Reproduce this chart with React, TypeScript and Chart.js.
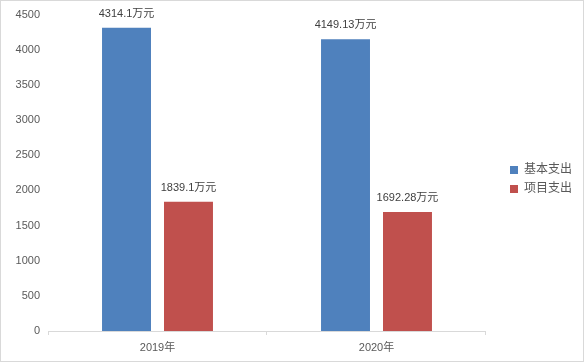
import React, { useEffect, useRef } from "react";
import { Chart, registerables } from "chart.js";

Chart.register(...registerables);

const categories = ["2019年", "2020年"];
const seriesNames = ["基本支出", "项目支出"];
const basicValues = [4314.1, 4149.13];
const projectValues = [1839.1, 1692.28];
const valueLabels = [
  ["4314.1万元", "4149.13万元"],
  ["1839.1万元", "1692.28万元"],
];
const yMin = 0;
const yMax = 4500;
const yStep = 500;

const FONT = '"Liberation Sans", "Noto Sans CJK SC", sans-serif';
const TEXT = "#595959";
const LEGEND_GAP = 18;

const outerBorder = {
  id: "outerBorder",
  beforeDraw(chart: any) {
    const { ctx, width, height } = chart;
    ctx.save();
    ctx.fillStyle = "#ffffff";
    ctx.fillRect(0, 0, width, height);
    ctx.restore();
  },
  afterDraw(chart: any) {
    const { ctx, width, height } = chart;
    ctx.save();
    ctx.strokeStyle = "#d9d9d9";
    ctx.lineWidth = 1;
    ctx.strokeRect(0.5, 0.5, width - 1, height - 1);
    ctx.restore();
  },
};

const legendGap = {
  id: "legendGap",
  afterInit(chart: any) {
    const lg = chart.legend;
    if (lg && !lg.__patched) {
      const orig = lg.fit;
      lg.fit = function () {
        orig.call(this);
        this.width += LEGEND_GAP;
      };
      lg.__patched = true;
    }
  },
  afterLayout(chart: any) {
    const lg = chart.legend;
    if (lg) {
      const w = lg.width;
      lg.left = chart.chartArea.right + 17;
      lg.right = lg.left + w;
      lg.top -= 8;
      lg.bottom -= 8;
    }
  },
};

const dataLabels = {
  id: "dataLabels",
  afterDatasetsDraw(chart: any) {
    const { ctx } = chart;
    ctx.save();
    ctx.font = `11px ${FONT}`;
    ctx.fillStyle = "#404040";
    ctx.textAlign = "center";
    ctx.textBaseline = "middle";
    chart.data.datasets.forEach((ds: any, di: number) => {
      const meta = chart.getDatasetMeta(di);
      meta.data.forEach((bar: any, i: number) => {
        ctx.fillText(valueLabels[di][i], bar.x, bar.y - 14);
      });
    });
    ctx.restore();
  },
};

export default function App() {
  const ref = useRef<HTMLCanvasElement>(null);
  useEffect(() => {
    document.body.style.margin = "0";
    const chart = new Chart(ref.current!, {
      type: "bar",
      data: {
        labels: categories,
        datasets: [
          {
            label: seriesNames[0],
            data: basicValues,
            backgroundColor: "#4f81bd",
            categoryPercentage: 0.566,
            barPercentage: 0.79,
          },
          {
            label: seriesNames[1],
            data: projectValues,
            backgroundColor: "#c0504d",
            categoryPercentage: 0.566,
            barPercentage: 0.79,
          },
        ],
      },
      options: {
        animation: false,
        responsive: false,
        layout: { padding: { top: 13, right: 1, bottom: 0, left: 0 } },
        plugins: {
          tooltip: { enabled: false },
          legend: {
            position: "right",
            align: "center",
            labels: {
              boxWidth: 8,
              boxHeight: 8,
              padding: 7,
              color: TEXT,
              font: { size: 12, family: FONT },
            },
          },
        },
        scales: {
          x: {
            grid: {
              display: true,
              drawOnChartArea: false,
              drawTicks: true,
              tickLength: 4,
              color: "#d9d9d9",
              offset: true,
            },
            border: { display: true, color: "#d9d9d9" },
            ticks: { color: TEXT, font: { size: 11, family: FONT }, padding: 6 },
            afterFit(scale: any) {
              scale.height = 31;
            },
          },
          y: {
            min: yMin,
            max: yMax,
            ticks: {
              stepSize: yStep,
              color: TEXT,
              font: { size: 11, family: FONT },
              padding: 8,
              callback: (v: any) => String(v),
            },
            grid: { display: false, drawTicks: false },
            border: { display: false },
            afterFit(scale: any) {
              scale.width = 48;
            },
          },
        },
      },
      plugins: [outerBorder, legendGap, dataLabels],
    });
    return () => chart.destroy();
  }, []);
  return (
    <div style={{ width: 584, height: 362 }}>
      <canvas ref={ref} width={584} height={362} style={{ display: "block" }} />
    </div>
  );
}
